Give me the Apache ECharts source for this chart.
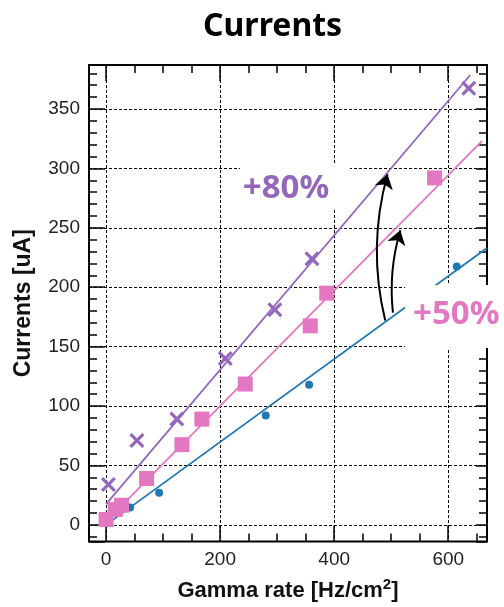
<!DOCTYPE html>
<html>
<head>
<meta charset="utf-8">
<script src="https://cdn.jsdelivr.net/npm/echarts@6/dist/echarts.min.js"></script>
<style>
  html, body { margin: 0; padding: 0; background: #fff; }
  #chart { width: 504px; height: 607px; }
</style>
</head>
<body>
<div id="chart"></div>
<script>
// measured points (gamma rate Hz/cm2, current uA)
var baseX = [42, 93, 280, 356, 615]
var baseY = [14.7, 27, 92, 118, 217.5]

var plus50X = [0, 16, 27, 71, 133, 168, 244, 358, 387, 576]
var plus50Y = [4.5, 13, 16.5, 39, 67.5, 89, 118.5, 167.5, 195, 292]

var plus80X = [4, 54, 124, 209, 296, 361, 636]
var plus80Y = [34, 71, 89, 140, 181, 224, 367.5]

// fitted straight lines, start and end points
var fitBase = [[0, 0], [668, 233]]
var fit50 = [[0, 3], [659, 323]]
var fit80 = [[0, 17.5], [638.6, 378.6]]

// arrows from the base line up to the other fits
var arrows = [
    [[489.5, 172], [493.5, 295]],
    [[503, 178.6], [516, 248]]
]

var xRange = [-30, 668]
var yRange = [-14, 387]

var BLUE = '#1f77b4'
var PINK = '#e377c2'
var PURPLE = '#9467bd'

function pairs(xs, ys) {
    return xs.map(function (x, i) { return [x, ys[i]] })
}

var crossPath = 'path://M0,1.5L1.5,0L5,3.5L8.5,0L10,1.5L6.5,5L10,8.5L8.5,10L5,6.5L1.5,10L0,8.5L3.5,5Z'

var chart = echarts.init(document.getElementById('chart'), null, { renderer: 'canvas' })

var labelFont = { fontFamily: 'Liberation Sans', fontSize: 19, color: '#222' }
var gridLine = { show: true, lineStyle: { color: '#000', width: 1, type: [3, 2] } }

function xAxisBase(pos) {
    return {
        type: 'value', position: pos, min: xRange[0], max: xRange[1], splitNumber: 3,
        axisLine: { show: false, onZero: false },
        axisTick: { inside: true, length: 16, lineStyle: { color: '#000', width: 1.5 } },
        minorTick: { show: true, splitNumber: 4, length: 8, lineStyle: { color: '#000', width: 1.5 } },
        splitLine: { show: false },
        axisLabel: { show: false }
    }
}
function yAxisBase(pos, len) {
    return {
        type: 'value', position: pos, min: yRange[0], max: yRange[1], splitNumber: 8,
        axisLine: { show: false, onZero: false },
        axisTick: { inside: true, length: len, lineStyle: { color: '#000', width: 1.5 } },
        minorTick: { show: true, splitNumber: 5, length: 8, lineStyle: { color: '#000', width: 1.5 } },
        splitLine: { show: false },
        axisLabel: { show: false }
    }
}

var xBottom = xAxisBase('bottom')
xBottom.splitLine = gridLine
xBottom.axisLabel = Object.assign({
    show: true, margin: 9,
    formatter: function (v) { return v % 200 === 0 ? v : '' }
}, labelFont)
xBottom.name = '{a|Gamma rate [Hz/cm}{s|2}{a|]}'
xBottom.nameLocation = 'middle'
xBottom.nameGap = 36
xBottom.nameTextStyle = {
    rich: {
        a: { fontFamily: 'Liberation Sans', fontWeight: 'bold', fontSize: 22, color: '#111' },
        s: { fontFamily: 'Liberation Sans', fontWeight: 'bold', fontSize: 15, color: '#111', padding: [0, 0, 12, 0] }
    }
}

var xTop = xAxisBase('top')

var yLeft = yAxisBase('left', 16)
yLeft.splitLine = gridLine
yLeft.axisLabel = Object.assign({
    show: true, margin: 9,
    formatter: function (v) { return v % 50 === 0 ? v : '' }
}, labelFont)
yLeft.name = 'Currents [uA]'
yLeft.nameLocation = 'middle'
yLeft.nameGap = 54
yLeft.nameTextStyle = { fontFamily: 'Liberation Sans', fontWeight: 'bold', fontSize: 23, color: '#111' }

var yRight = yAxisBase('right', 11)

var option = {
    backgroundColor: '#fff',
    animation: false,
    title: {
        text: 'Currents',
        left: 198,
        top: 6,
        textStyle: { fontFamily: 'Noto Sans', fontWeight: 'bold', fontSize: 32, color: '#000' }
    },
    grid: {
        left: 89, top: 65, right: 17, bottom: 61,
        show: true, borderColor: '#000', borderWidth: 2, backgroundColor: '#fff'
    },
    xAxis: [xBottom, xTop],
    yAxis: [yLeft, yRight],
    series: [
        {
            type: 'line', data: fitBase, showSymbol: false, z: 3,
            lineStyle: { color: BLUE, width: 1.8 }
        },
        {
            type: 'line', data: fit50, showSymbol: false, z: 3,
            lineStyle: { color: PINK, width: 1.8 }
        },
        {
            type: 'line', data: fit80, showSymbol: false, z: 3,
            lineStyle: { color: PURPLE, width: 1.8 }
        },
        {
            type: 'scatter', data: pairs(baseX, baseY), symbol: 'circle', symbolSize: 8, z: 4,
            itemStyle: { color: BLUE, opacity: 1 }
        },
        {
            type: 'scatter', data: pairs(plus50X, plus50Y), symbol: 'rect', symbolSize: 15, z: 4,
            itemStyle: { color: PINK, opacity: 1 }
        },
        {
            type: 'scatter', data: pairs(plus80X, plus80Y), symbol: crossPath, symbolSize: 15, z: 4,
            itemStyle: { color: PURPLE, opacity: 1 }
        },
        {
            type: 'lines', coordinateSystem: 'cartesian2d', z: 5,
            symbol: ['none', 'arrow'], symbolSize: [9, 14],
            lineStyle: { color: '#000', width: 2, opacity: 1 },
            data: [
                { coords: arrows[0], lineStyle: { curveness: 0.13 } },
                { coords: arrows[1], lineStyle: { curveness: 0.1 } }
            ]
        }
    ],
    graphic: [
        // white label boxes that hide the grid behind the percentages
        { type: 'rect', z: 100, shape: { x: 240, y: 163, width: 110, height: 47 }, style: { fill: '#fff' } },
        {
            type: 'text', z: 101, x: 286, y: 189,
            style: { text: '+80%', fill: PURPLE, font: 'bold 33px "Noto Sans"', align: 'center', verticalAlign: 'middle' }
        },
        { type: 'rect', z: 100, shape: { x: 405, y: 285, width: 110, height: 63 }, style: { fill: '#fff' } },
        {
            type: 'text', z: 101, x: 413, y: 315,
            style: { text: '+50%', fill: PINK, font: 'bold 33px "Noto Sans"', align: 'left', verticalAlign: 'middle' }
        }
    ]
}

chart.setOption(option)
</script>
</body>
</html>
